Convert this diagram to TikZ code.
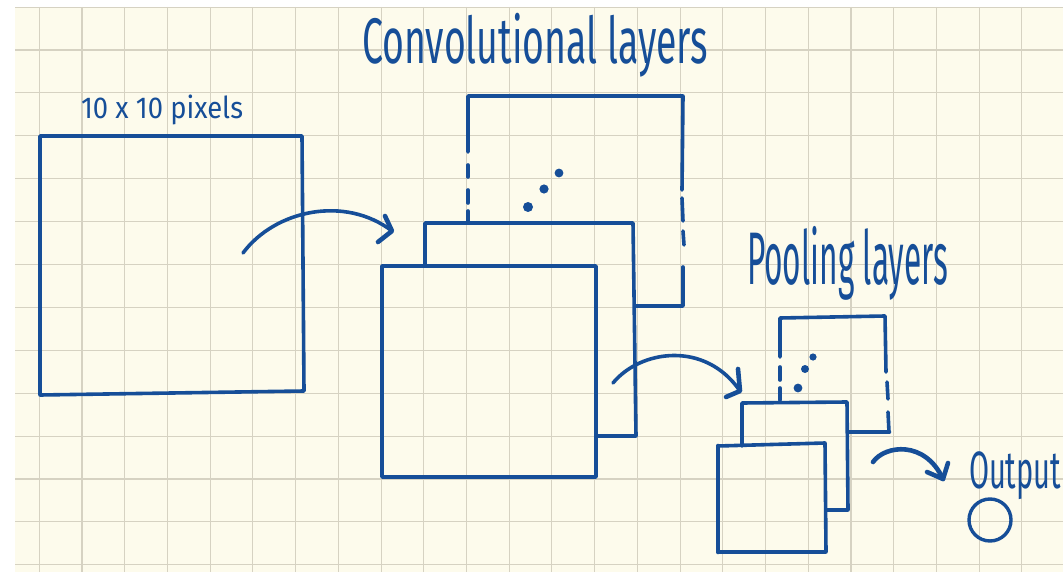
\documentclass[tikz,border=0pt]{standalone}
\usepackage{fontspec}
\setmainfont{Fira Sans}
\usepackage{graphicx}
\definecolor{ink}{RGB}{22,78,152}
\definecolor{paper}{RGB}{253,251,236}
\definecolor{gridc}{RGB}{214,210,194}
\newcommand{\fitto}[3]{\resizebox*{#1pt}{#2pt}{#3}}
\begin{document}
\begin{tikzpicture}[x=1pt,y=-1pt,
  pen/.style={draw=ink, line width=3.6pt, line join=round, line cap=round},
  thickpen/.style={draw=ink, line width=4.6pt, line join=round, line cap=round},
  dashpen/.style={draw=ink, line width=3.6pt, line cap=round},
  gridline/.style={draw=gridc, line width=1.1pt},
  label/.style={anchor=north west, inner sep=0pt, outer sep=0pt, text=ink},
  dot/.style={fill=ink}]
\clip (0,0) rectangle (1063,572);
\fill[white] (0,0) rectangle (1063,572);
\fill[paper] (15,7) rectangle (1063,572);
% grid
\foreach \k in {0,...,23} \draw[gridline] ({39.3+42.72*\k},7) -- ({39.3+42.72*\k},572);
\foreach \k in {0,...,12} \draw[gridline] (15,{50+42.9*\k}) -- (1063,{50+42.9*\k});
\draw[gridline] (15,7.5) -- (1063,7.5);

% labels
\node[label] (tconv) at (362,13) {\fitto{346}{64}{Convolutional layers}};
\node[label] (tpix) at (81,95) {\fitto{162}{30}{10 x 10 pixels}};
\node[label] (tpool) at (747,226) {\fitto{201}{74}{Pooling layers}};
\node[label] (tout) at (969,452) {\fitto{92}{48}{Output}};

% input square
\draw[pen] (40,136) -- (302,136) -- (304,391) -- (40,395) -- cycle;

% convolutional stack
\draw[pen] (382,266) -- (596,266) -- (596,477) -- (382,477) -- cycle;
\draw[pen] (425,266) -- (425,223) -- (633,223) -- (636,436) -- (597,436);
\draw[pen] (468,152) -- (468,96) -- (683,96) -- (682,190);
\draw[pen] (683,267) -- (683,306) -- (636,306);
\draw[dashpen] (468,165) -- (468,177) (468,190) -- (468,203) (468,211) -- (468,222);
\draw[dashpen] (682,198) -- (683,221) (683,231) -- (684,245);
\fill[dot] (528,207) circle (5);
\fill[dot] (544,189) circle (4.6);
\fill[dot] (559,173) circle (4.4);

% pooling stack
\draw[pen] (718,446) -- (825,443) -- (826,552) -- (718,552) -- cycle;
\draw[thickpen] (718,446) -- (718,552);
\draw[pen] (742,446) -- (742,403) -- (847,402) -- (848,510) -- (826,510);
\draw[pen] (780,357) -- (780,318) -- (885,316) -- (886,372);
\draw[dashpen] (780,367) -- (780,380) (780,388) -- (780,400);
\draw[dashpen] (887,382) -- (888,399);
\draw[pen] (888,412) -- (889,432);
\draw[thickpen] (849,432) -- (889,432);
\fill[dot] (798,388) circle (4.4);
\fill[dot] (805,369) circle (4);
\fill[dot] (813,357) circle (3.6);

% arrows
\coordinate (a1s) at (243,253);
\coordinate (a1e) at (392,231);
\draw[pen] (a1s) .. controls (275,210) and (345,195) .. (a1e);
\draw[thickpen] (385,216) -- (a1e) -- (378,242);

\coordinate (a2s) at (613,383);
\coordinate (a2e) at (740,391);
\draw[pen] (a2s) .. controls (640,350) and (705,340) .. (a2e);
\draw[thickpen] (738,369) -- (a2e) -- (726,397);

\coordinate (a3s) at (873,462);
\coordinate (a3e) at (943,479);
\draw[thickpen] (a3s) .. controls (885,445) and (925,440) .. (a3e);
\draw[thickpen] (948,463) -- (a3e) -- (927,472);

% output
\node[draw=ink, line width=3.4pt, circle, minimum size=42pt, inner sep=0pt] (out) at (990,520) {};
\end{tikzpicture}
\end{document}
